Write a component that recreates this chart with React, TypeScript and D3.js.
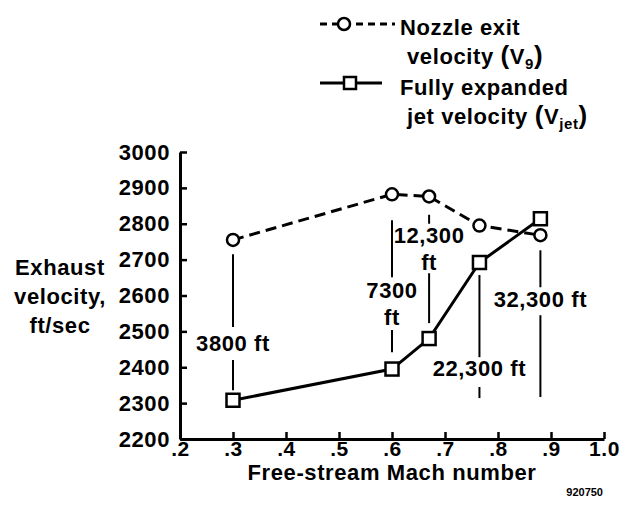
import * as React from 'react';
import { select, scaleLinear, axisLeft, axisBottom, line } from 'd3';

const { useRef, useEffect } = React;

// Free-stream Mach number at each test point
const mach = [0.3, 0.6, 0.67, 0.765, 0.88];
// Nozzle exit velocity (V9), ft/sec
const nozzleExit = [2755, 2882, 2876, 2795, 2768];
// Fully expanded jet velocity (Vjet), ft/sec
const fullyExpanded = [2308, 2395, 2480, 2692, 2814];

const xTicks = [0.2, 0.3, 0.4, 0.5, 0.6, 0.7, 0.8, 0.9, 1.0];
const xTickLabels = ['.2', '.3', '.4', '.5', '.6', '.7', '.8', '.9', '1.0'];
const yTicks = [2200, 2300, 2400, 2500, 2600, 2700, 2800, 2900, 3000];

// altitude callouts: label lines, label center (velocity units), leader segments
const altMach = [0.3, 0.6, 0.67, 0.765, 0.88];
const altLabels = [['3800 ft'], ['7300', 'ft'], ['12,300', 'ft'], ['22,300 ft'], ['32,300 ft']];
const altLabelAt = [2467, 2578, 2732, 2398, 2590];
const altSegments = [
    [[2715, 2512], [2420, 2336]],
    [[2810, 2651], [2504, 2442]],
    [[2825, 2800], [2662, 2523]],
    [[2657, 2428], [2345, 2314]],
    [[2726, 2623], [2545, 2317]],
];

const FONT = '"Liberation Sans", Arial, Helvetica, sans-serif';
const FS = 22;
const LS = 0.6;

export default function App(): JSX.Element {
    const svgRef = useRef(null);

    useEffect(() => {
        const svg = select(svgRef.current);
        svg.selectAll('*').remove();

        const x = scaleLinear().domain([0.2, 1.0]).range([180, 604]);
        const y = scaleLinear().domain([2200, 3000]).range([439, 152]);

        const g = svg.append('g')
            .attr('font-family', FONT)
            .attr('font-weight', 'bold')
            .attr('letter-spacing', LS)
            .attr('fill', '#000');

        // axes, ticks pointing inward
        const yAxis = axisLeft(y).tickValues(yTicks).tickSizeInner(-7).tickSizeOuter(0).tickPadding(10)
            .tickFormat(d => String(d));
        const ya = g.append('g').attr('transform', `translate(${x(0.2)},0)`).call(yAxis);
        const xAxis = axisBottom(x).tickValues(xTicks).tickSizeInner(-7).tickSizeOuter(0)
            .tickFormat((d, i) => xTickLabels[i]);
        const xa = g.append('g').attr('transform', `translate(0,${y(2200)})`).call(xAxis);

        [ya, xa].forEach(a => {
            a.attr('font-size', null).attr('font-family', null);
            a.select('.domain').attr('stroke', '#000').attr('stroke-width', 3);
            a.selectAll('.tick line').attr('stroke', '#000').attr('stroke-width', 2.5);
            a.selectAll('.tick text')
                .attr('font-family', FONT).attr('font-weight', 'bold')
                .attr('font-size', FS).attr('fill', '#000');
        });
        xa.selectAll('.tick').filter((d) => d === 0.2).select('line').remove();
        xa.selectAll('.tick text').attr('font-size', 21).attr('y', 17).attr('dy', 0);

        // altitude leader lines and labels
        altMach.forEach((m, i) => {
            altSegments[i].forEach(seg => {
                g.append('line')
                    .attr('x1', x(m)).attr('x2', x(m))
                    .attr('y1', y(seg[0])).attr('y2', y(seg[1]))
                    .attr('stroke', '#000').attr('stroke-width', 2);
            });
            const lines = altLabels[i];
            const lh = 27;
            lines.forEach((t, j) => {
                g.append('text')
                    .attr('x', x(m))
                    .attr('y', y(altLabelAt[i]) + (j - (lines.length - 1) / 2) * lh)
                    .attr('dy', '0.36em')
                    .attr('text-anchor', 'middle')
                    .attr('font-size', FS)
                    .text(t);
            });
        });

        const pts = (vals: number[]) => mach.map((m, i) => [x(m), y(vals[i])] as [number, number]);

        // fully expanded jet velocity
        g.append('path')
            .attr('d', line()(pts(fullyExpanded)))
            .attr('fill', 'none').attr('stroke', '#000').attr('stroke-width', 3);
        // nozzle exit velocity
        g.append('path')
            .attr('d', line()(pts(nozzleExit)))
            .attr('fill', 'none').attr('stroke', '#000').attr('stroke-width', 3)
            .attr('stroke-dasharray', '11,6');

        pts(nozzleExit).forEach(p => {
            g.append('circle').attr('cx', p[0]).attr('cy', p[1]).attr('r', 6)
                .attr('fill', '#fff').attr('stroke', '#000').attr('stroke-width', 2.5);
        });
        pts(fullyExpanded).forEach(p => {
            g.append('rect').attr('x', p[0] - 6.5).attr('y', p[1] - 6.5).attr('width', 13).attr('height', 13)
                .attr('fill', '#fff').attr('stroke', '#000').attr('stroke-width', 2.5);
        });

        // y axis title
        ['Exhaust', 'velocity,', 'ft/sec'].forEach((t, i) => {
            g.append('text').attr('x', 60).attr('y', 275 + i * 29)
                .attr('text-anchor', 'middle').attr('font-size', FS).text(t);
        });
        // x axis title
        g.append('text').attr('x', 392).attr('y', 480)
            .attr('text-anchor', 'middle').attr('font-size', FS).text('Free-stream Mach number');
        g.append('text').attr('x', 603).attr('y', 496).attr('letter-spacing', 0)
            .attr('text-anchor', 'end').attr('font-size', 11).text('920750');

        // legend
        g.append('line').attr('x1', 320).attr('x2', 395).attr('y1', 24).attr('y2', 24)
            .attr('stroke', '#000').attr('stroke-width', 3).attr('stroke-dasharray', '7,5');
        g.append('circle').attr('cx', 344).attr('cy', 24).attr('r', 6)
            .attr('fill', '#fff').attr('stroke', '#000').attr('stroke-width', 2.5);
        g.append('line').attr('x1', 320).attr('x2', 382).attr('y1', 83).attr('y2', 83)
            .attr('stroke', '#000').attr('stroke-width', 3);
        g.append('rect').attr('x', 344).attr('y', 77).attr('width', 12).attr('height', 12)
            .attr('fill', '#fff').attr('stroke', '#000').attr('stroke-width', 2.5);

        g.append('text').attr('x', 400).attr('y', 35).attr('font-size', FS).text('Nozzle exit');
        const t2 = g.append('text').attr('x', 407).attr('y', 64).attr('font-size', FS);
        t2.append('tspan').text('velocity ');
        t2.append('tspan').attr('font-size', 26).text('(');
        t2.append('tspan').text('V');
        t2.append('tspan').attr('font-size', 15).attr('dy', 5).text('9');
        t2.append('tspan').attr('font-size', 26).attr('dy', -5).text(')');
        g.append('text').attr('x', 400).attr('y', 95).attr('font-size', FS).text('Fully expanded');
        const t4 = g.append('text').attr('x', 407).attr('y', 124).attr('font-size', FS);
        t4.append('tspan').text('jet velocity ');
        t4.append('tspan').attr('font-size', 26).text('(');
        t4.append('tspan').text('V');
        t4.append('tspan').attr('font-size', 15).attr('dy', 5).text('jet');
        t4.append('tspan').attr('font-size', 26).attr('dy', -5).text(')');
    }, []);

    return (
        <svg width={623} height={510} ref={svgRef}
            style={{ position: 'absolute', left: 0, top: 0, display: 'block', background: '#fff' }} />
    );
}
